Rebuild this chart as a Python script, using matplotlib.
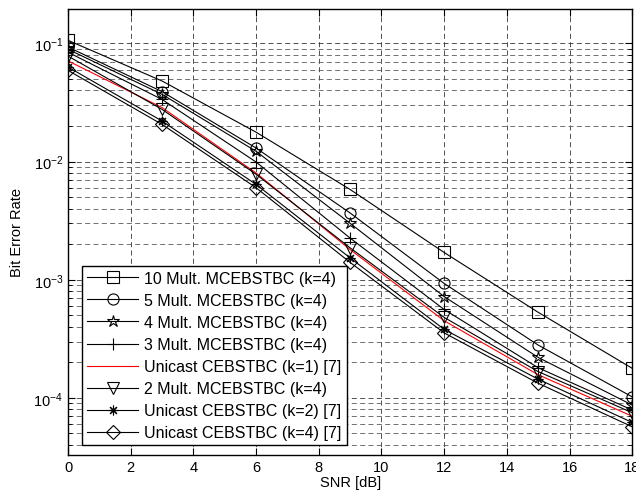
import matplotlib
matplotlib.use("Agg")
import matplotlib.pyplot as plt
from matplotlib.ticker import LogLocator, NullFormatter, MultipleLocator

plt.rcParams["font.family"] = ["Liberation Sans", "DejaVu Sans"]
plt.rcParams["font.size"] = 10
plt.rcParams["mathtext.fontset"] = "custom"
plt.rcParams["mathtext.rm"] = "Liberation Sans"

# SNR [dB]
snr = [0, 3, 6, 9, 12, 15, 18]

# BER curves
ber_10mult = [0.106, 0.048, 0.0177, 0.0058, 0.0017, 0.00053, 0.000178]
ber_5mult = [0.093, 0.039, 0.0130, 0.00367, 0.00093, 0.00028, 0.000102]
ber_4mult = [0.089, 0.037, 0.0122, 0.0030, 0.00072, 0.00022, 0.000087]
ber_3mult = [0.084, 0.0335, 0.0099, 0.00225, 0.00056, 0.00018, 0.000079]
ber_uni_k1 = [0.071, 0.0286, 0.0080, 0.0018, 0.00045, 0.000157, 0.000070]
ber_2mult = [0.078, 0.0276, 0.0078, 0.00186, 0.00048, 0.000167, 0.000075]
ber_uni_k2 = [0.063, 0.022, 0.0064, 0.00153, 0.00038, 0.000144, 0.000062]
ber_uni_k4 = [0.059, 0.0206, 0.0060, 0.00140, 0.000355, 0.000133, 0.000057]

labels = [
    "10 Mult. MCEBSTBC (k=4)",
    "5 Mult. MCEBSTBC (k=4)",
    "4 Mult. MCEBSTBC (k=4)",
    "3 Mult. MCEBSTBC (k=4)",
    "Unicast CEBSTBC (k=1) [7]",
    "2 Mult. MCEBSTBC (k=4)",
    "Unicast CEBSTBC (k=2) [7]",
    "Unicast CEBSTBC (k=4) [7]",
]

fig = plt.figure(figsize=(6.36, 5.02), dpi=100)
ax = fig.add_axes([0.107, 0.092, 0.887, 0.888])

# 선 스타일 (마커, 크기, 색)
styles = [
    ("s", 8, "k"),
    ("o", 8, "k"),
    ("*", 9, "k"),
    ("+", 9, "k"),
    (None, 0, "r"),
    ("v", 8, "k"),
    ((8, 2, 0), 7, "k"),
    ("D", 7, "k"),
]
series = [ber_10mult, ber_5mult, ber_4mult, ber_3mult,
          ber_uni_k1, ber_2mult, ber_uni_k2, ber_uni_k4]

for ys, lab, (mk, ms, col) in zip(series, labels, styles):
    ax.semilogy(snr, ys, color=col, lw=0.8, marker=mk, markersize=ms,
                markerfacecolor="none", markeredgecolor=col,
                markeredgewidth=0.8, label=lab)

ax.set_xlim(0, 18)
ax.set_ylim(3.3e-5, 0.195)
ax.xaxis.set_major_locator(MultipleLocator(2))
ax.yaxis.set_major_locator(LogLocator(base=10, numticks=10))
ax.yaxis.set_minor_locator(LogLocator(base=10, subs=range(2, 10), numticks=10))
ax.yaxis.set_minor_formatter(NullFormatter())

# MATLAB 스타일 격자
ax.grid(True, which="major", axis="both", color="0.2", lw=0.6,
        linestyle=(0, (6, 4)))
ax.grid(True, which="minor", axis="y", color="0.35", lw=0.6,
        linestyle=(0, (6, 4)))

ax.tick_params(which="both", direction="in", top=True, right=True,
               labelsize=10.5)
ax.tick_params(which="major", length=5)
ax.tick_params(which="minor", length=3)
for sp in ax.spines.values():
    sp.set_linewidth(1.0)

ax.set_xlabel("SNR [dB]", fontsize=10.5, labelpad=1)
ax.set_ylabel("Bit Error Rate", fontsize=10.5, labelpad=7)

leg = ax.legend(loc="lower left", bbox_to_anchor=(0.025, 0.022),
                borderaxespad=0, fancybox=False, framealpha=1,
                edgecolor="k", fontsize=11.5, handlelength=3.2,
                handletextpad=0.4, labelspacing=0.44, borderpad=0.3)
leg.get_frame().set_linewidth(1.0)

fig.savefig("out.png", dpi=100)
